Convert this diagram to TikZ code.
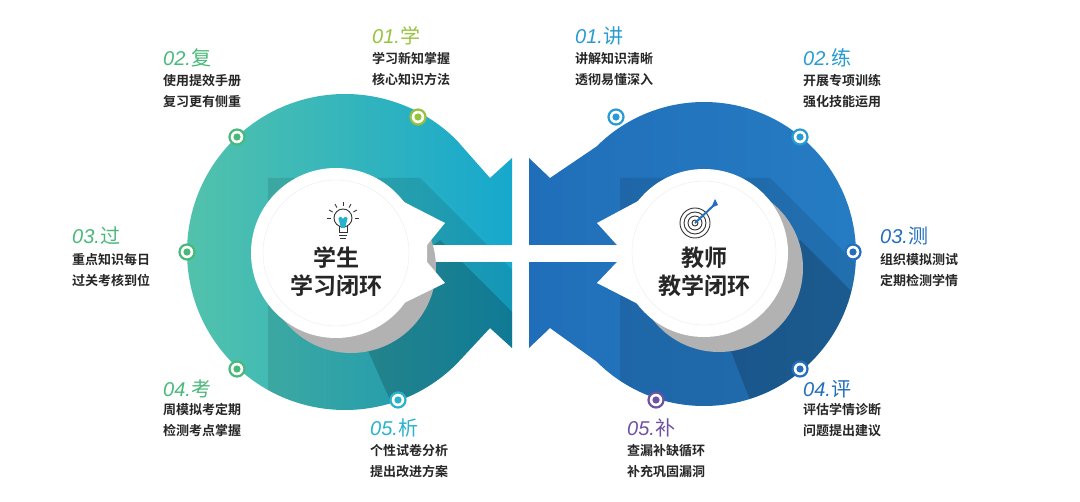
\documentclass[tikz,border=0pt]{standalone}
\usepackage{fontspec}
\newfontfamily\cjk{Noto Sans CJK SC}[BoldFont={Noto Sans CJK SC Bold}]
\newfontfamily\numf{Liberation Sans}
\usetikzlibrary{shadings,calc}
\definecolor{cgreen}{RGB}{72,185,120}
\definecolor{clime}{RGB}{150,195,60}
\definecolor{cteal}{RGB}{40,178,205}
\definecolor{cskyb}{RGB}{40,155,210}
\definecolor{cblue}{RGB}{35,110,190}
\definecolor{cpurp}{RGB}{110,80,165}
\definecolor{lgL}{RGB}{85,195,170}
\definecolor{lgR}{RGB}{22,168,205}
\definecolor{bL}{RGB}{32,110,185}
\definecolor{bR}{RGB}{38,125,195}
\tikzset{
  marker/.style={circle,draw=#1,line width=2.2pt,fill=white,minimum size=15pt,inner sep=0pt,
    path picture={\fill[#1] (path picture bounding box.center) circle (3.6pt);}},
  head/.style={text=#1,anchor=base west,inner sep=0pt,font=\fontsize{20}{20}\selectfont},
  body/.style={anchor=north west,inner sep=0pt,align=left,font=\cjk\bfseries\fontsize{13}{21}\selectfont,text=black!85},
  centre/.style={align=center,font=\cjk\bfseries\fontsize{23}{28}\selectfont,text=black!85}
}
\newcommand{\hd}[2]{{\numf\itshape #1.}{\cjk #2}}
\def\leftshape{(512,158) -- (490,178) -- ($(345,252)+(-45:158)$)
  arc[start angle=-45,end angle=-315,radius=158] -- (490,328) -- (512,348) -- cycle}
\def\rightshape{(529,158) -- (550,178) -- ($(704,254)+(-135:152)$)
  arc[start angle=-135,end angle=135,radius=152] -- (550,328) -- (529,348) -- cycle}
\begin{document}
\begin{tikzpicture}[x=1pt,y=-1pt]
\useasboundingbox (0,0) rectangle (1080,502);
% ---------- left shape
\shade[left color=lgL,right color=lgR] \leftshape;
\begin{scope}
\clip \leftshape;
\fill[black,opacity=0.10] (268,178) -- (420,178) -- (540,298) -- (540,440) -- (268,440) -- cycle;
\fill[black,opacity=0.18] (350,310) -- (440,240) -- (540,340) -- (460,430) -- (390,400) -- cycle;
\end{scope}
\fill[white] (427,245) rectangle (520,262);
\fill[gray!60] (351,268) circle (85);
\fill[white] (400,200) -- (445,223) -- (427,245) -- (427,262) -- (445,283) -- (400,305) -- cycle;
\fill[white] (336,253) circle (85);
\draw[gray!15] (336,253) circle (73);
% ---------- right shape
\shade[left color=bL,right color=bR] \rightshape;
\begin{scope}
\clip \rightshape;
\fill[black,opacity=0.10] (620,178) -- (770,178) -- (880,288) -- (880,440) -- (620,440) -- cycle;
\fill[black,opacity=0.18] (715,310) -- (800,240) -- (880,320) -- (820,430) -- (750,400) -- cycle;
\end{scope}
\fill[white] (520,245) rectangle (617,262);
\fill[gray!60] (719,268) circle (84);
\fill[white] (640,200) -- (597,223) -- (617,245) -- (617,262) -- (597,283) -- (640,305) -- cycle;
\fill[white] (704,253) circle (84);
\draw[gray!15] (704,253) circle (72);
% ---------- centre texts and icons
\node[centre] (lc) at (336,272) {学生\\学习闭环};
\node[centre] (rc) at (704,272) {教师\\教学闭环};
% bulb
\begin{scope}[shift={(343,218)},line width=0.9pt,draw=black!80]
  \draw (0,0) circle (9);
  \fill[cteal] (-5,-1) -- (5,-1) -- (2,10) -- (-2,10) -- cycle;
  \fill[white] (-5,-1) circle (1.6) (0,-1) circle (1.6) (5,-1) circle (1.6);
  \draw (-4,8) -- (-4,14) -- (4,14) -- (4,8);
  \draw (-4,17) -- (4,17) (-3,20) -- (3,20);
  \foreach \a in {-150,-120,-90,-60,-30,0,180} \draw ($(0,0)+(\a:12)$) -- ($(0,0)+(\a:16)$);
\end{scope}
% target
\begin{scope}[shift={(695,223)},line width=0.9pt,draw=black!80]
  \foreach \r in {15,11,7,3} \draw (0,0) circle (\r);
  \draw[cblue,line width=2pt] (0,0) -- (18,-17);
  \fill[cblue] (16,-15) -- (23,-18) -- (20,-24) -- cycle;
\end{scope}
% ---------- markers
\node[marker=cgreen] (m1) at (237,137) {};
\node[marker=clime] (m2) at (418,117) {};
\node[marker=cgreen] (m3) at (187,252) {};
\node[marker=cgreen] (m4) at (237,369) {};
\node[marker=cteal] (m5) at (398,400) {};
\node[marker=cskyb] (n1) at (616,117) {};
\node[marker=cskyb] (n2) at (800,137) {};
\node[marker=cblue] (n3) at (853,252) {};
\node[marker=cblue] (n4) at (800,369) {};
\node[marker=cpurp] (n5) at (656,400) {};
% ---------- labels
\node[head=cgreen] (h1) at (163,66) {\hd{02}{复}};
\node[body] (b1) at (163,74) {使用提效手册\\复习更有侧重};
\node[head=clime] (h2) at (372,44) {\hd{01}{学}};
\node[body] (b2) at (372,52) {学习新知掌握\\核心知识方法};
\node[head=cgreen] (h3) at (72,244) {\hd{03}{过}};
\node[body] (b3) at (72,253) {重点知识每日\\过关考核到位};
\node[head=cgreen] (h4) at (163,397) {\hd{04}{考}};
\node[body] (b4) at (163,403) {周模拟考定期\\检测考点掌握};
\node[head=cteal] (h5) at (370,436) {\hd{05}{析}};
\node[body] (b5) at (370,444) {个性试卷分析\\提出改进方案};
\node[head=cskyb] (g1) at (575,44) {\hd{01}{讲}};
\node[body] (c1) at (575,52) {讲解知识清晰\\透彻易懂深入};
\node[head=cskyb] (g2) at (803,66) {\hd{02}{练}};
\node[body] (c2) at (803,74) {开展专项训练\\强化技能运用};
\node[head=cblue] (g3) at (880,244) {\hd{03}{测}};
\node[body] (c3) at (880,253) {组织模拟测试\\定期检测学情};
\node[head=cblue] (g4) at (803,397) {\hd{04}{评}};
\node[body] (c4) at (803,403) {评估学情诊断\\问题提出建议};
\node[head=cpurp] (g5) at (627,436) {\hd{05}{补}};
\node[body] (c5) at (627,444) {查漏补缺循环\\补充巩固漏洞};
\end{tikzpicture}
\end{document}
